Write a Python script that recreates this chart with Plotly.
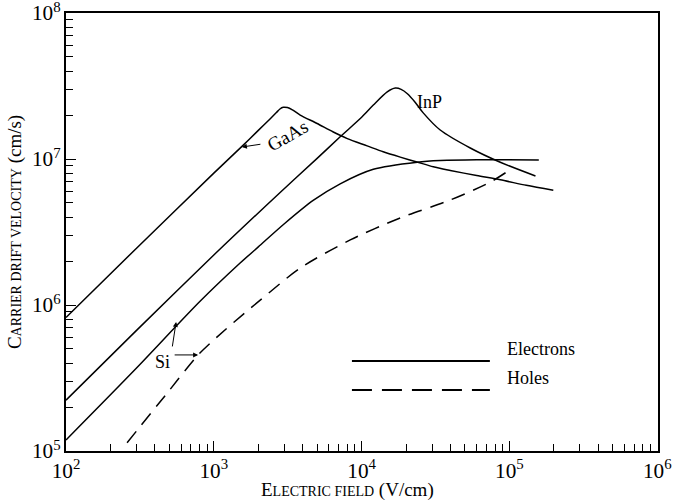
import plotly.graph_objects as go

# electron / hole drift velocity vs field
gaas_E = [100, 300, 1000, 1550, 2000, 2400, 2650, 2800, 2950, 3150, 3400, 3840, 5000, 6430,
          8000, 10900, 14000, 18250, 24000, 30500, 39800, 60000, 86700, 130000, 198000]
gaas_v = [8.2e5, 2.45e6, 8.0e6, 1.22e7, 1.57e7, 1.88e7, 2.08e7, 2.2e7, 2.26e7, 2.25e7, 2.17e7,
          2.0e7, 1.75e7, 1.53e7, 1.38e7, 1.23e7, 1.12e7, 1.03e7, 9.5e6, 8.85e6, 8.35e6,
          7.7e6, 7.2e6, 6.6e6, 6.1e6]

inp_E = [100, 300, 1000, 2810, 5000, 7160, 10000, 12000, 14900, 16900, 18500, 20400,
         23000, 26100, 34000, 54300, 86700, 150000]
inp_v = [2.23e5, 6.7e5, 2.2e6, 5.9e6, 1.01e7, 1.42e7, 1.93e7, 2.34e7, 2.88e7, 3.06e7,
         3.0e7, 2.8e7, 2.45e7, 2.07e7, 1.58e7, 1.19e7, 9.5e6, 7.65e6]

si_E = [100, 300, 807, 1500, 2000, 3000, 4700, 7160, 12000, 23800, 34000, 60000, 158000]
si_v = [1.19e5, 3.7e5, 1.06e6, 1.93e6, 2.5e6, 3.6e6, 5.2e6, 6.76e6, 8.5e6, 9.5e6,
        9.75e6, 9.88e6, 9.85e6]

holes_E = [259, 500, 783, 1200, 2060, 3840, 8380, 18250, 39800, 74300, 105000]
holes_v = [1.14e5, 2.6e5, 4.55e5, 6.8e5, 1.08e6, 1.79e6, 2.79e6, 3.95e6, 5.24e6, 6.95e6, 8.67e6]

FONT = "Liberation Serif"
solid = dict(color="black", width=1.5)

fig = go.Figure()
fig.add_trace(go.Scatter(x=gaas_E, y=gaas_v, mode="lines",
                         line=dict(shape="spline", smoothing=0.8, **solid)))
fig.add_trace(go.Scatter(x=inp_E, y=inp_v, mode="lines",
                         line=dict(shape="spline", smoothing=0.8, **solid)))
fig.add_trace(go.Scatter(x=si_E, y=si_v, mode="lines",
                         line=dict(shape="spline", smoothing=0.8, **solid)))
fig.add_trace(go.Scatter(x=holes_E, y=holes_v, mode="lines",
                         line=dict(shape="spline", smoothing=0.8, dash="14px,9px", **solid)))

axis = dict(type="log", dtick=1, exponentformat="power", showgrid=False, zeroline=False,
            showline=True, linecolor="black", linewidth=2, mirror=True, automargin=False,
            ticks="inside", ticklen=10, tickwidth=1, tickcolor="black",
            ticklabeloverflow="allow",
            tickfont=dict(family=FONT, size=17, color="black"),
            minor=dict(ticks="inside", ticklen=7, tickwidth=1, tickcolor="black",
                       dtick="D1", showgrid=False))

fig.update_xaxes(range=[2, 6.005], **axis)
fig.update_yaxes(range=[5, 8], **axis)

big = dict(family=FONT, size=19, color="black")
fig.add_annotation(xref="paper", yref="paper", x=0.476, y=-0.06, yanchor="top", xanchor="center",
                   text="E<span style='font-size:14px'>LECTRIC FIELD</span> (V/cm)",
                   showarrow=False, font=big)
fig.add_annotation(xref="paper", yref="paper", x=-0.086, y=0.5, textangle=-90,
                   xanchor="center", yanchor="middle",
                   text="C<span style='font-size:14px'>ARRIER DRIFT VELOCITY</span> (cm/s)",
                   showarrow=False, font=big)

# legend drawn by hand (long line samples)
fig.add_shape(type="line", xref="paper", yref="paper", x0=0.483, x1=0.716, y0=0.2055, y1=0.2055,
              line=dict(color="black", width=2))
fig.add_shape(type="line", xref="paper", yref="paper", x0=0.483, x1=0.716, y0=0.139, y1=0.139,
              line=dict(color="black", width=2, dash="20px,10px"))
lab = dict(family=FONT, size=18, color="black")
fig.add_annotation(xref="paper", yref="paper", x=0.741, y=0.2055, text="Electrons",
                   showarrow=False, xanchor="left", font=lab)
fig.add_annotation(xref="paper", yref="paper", x=0.741, y=0.139, text="Holes",
                   showarrow=False, xanchor="left", font=lab)

# curve labels (log axes -> positions in log10 units)
fig.add_annotation(x=3.50, y=7.16, text="GaAs", textangle=-30, showarrow=False,
                   font=dict(family=FONT, size=19, color="black"))
fig.add_annotation(x=3.19, y=7.082, ax=20, ay=-3, text="", showarrow=True,
                   arrowhead=2, arrowsize=1, arrowwidth=1, arrowcolor="black")
fig.add_annotation(x=4.46, y=7.39, text="InP", showarrow=False, font=lab)
fig.add_annotation(x=2.65, y=5.61, text="Si", showarrow=False, font=lab)
fig.add_annotation(x=2.745, y=5.884, ax=-4, ay=26, text="", showarrow=True,
                   arrowhead=2, arrowsize=1, arrowwidth=1, arrowcolor="black")
fig.add_annotation(x=2.894, y=5.658, ax=-25, ay=0, text="", showarrow=True,
                   arrowhead=2, arrowsize=1, arrowwidth=1, arrowcolor="black")

fig.update_layout(width=676, height=504, showlegend=False, plot_bgcolor="white",
                  paper_bgcolor="white", margin=dict(l=66, r=18, t=13, b=53))
fig.write_html("out.html", config={"displayModeBar": False},
               post_script="document.body.style.margin='0';")
